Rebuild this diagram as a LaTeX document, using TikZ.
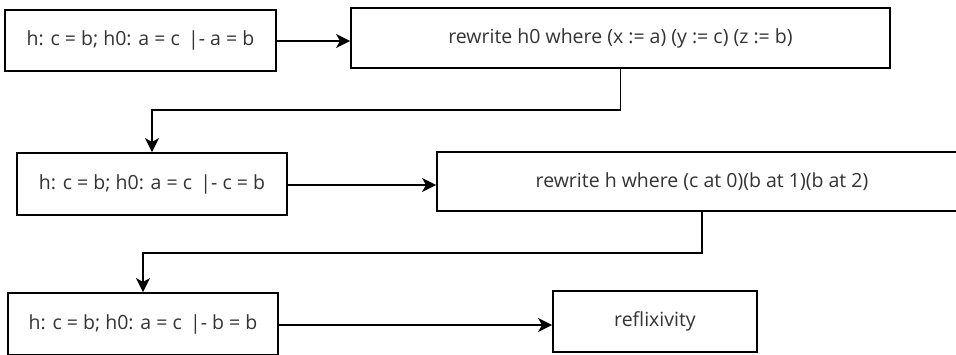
\documentclass[tikz,border=0pt]{standalone}
\usepackage{fontspec}
\setmainfont{Open Sans}
\usetikzlibrary{arrows.meta}
\definecolor{txt}{HTML}{333333}
\tikzset{
  stepbox/.style={draw=black, line width=1.9pt, fill=white, text=txt,
    font=\fontsize{19.5}{23}\selectfont, inner sep=0pt, anchor=center},
  arr/.style={line width=1.9pt, -{Stealth[length=14pt,width=14pt,inset=4pt]}},
}
\begin{document}
\begin{tikzpicture}[x=1pt,y=-1pt]
  \useasboundingbox (0,0) rectangle (956,354);
  % goal and tactic boxes
  \node[stepbox, minimum width=271pt, minimum height=61pt] (g1) at (140.5,40.5) {h: c = b; h0: a = c \,|- a = b};
  \node[stepbox, minimum width=539pt, minimum height=60pt] (t1) at (620.5,38) {rewrite h0 where (x := a) (y := c) (z := b)};
  \node[stepbox, minimum width=270pt, minimum height=62pt] (g2) at (152,184) {h: c = b; h0: a = c \,|- c = b};
  \node[stepbox, minimum width=530pt, minimum height=59pt] (t2) at (702,181.5) {rewrite h where (c at 0)(b at 1)(b at 2)};
  \node[stepbox, minimum width=270pt, minimum height=62pt] (g3) at (143,324) {h: c = b; h0: a = c \,|- b = b};
  \node[stepbox, minimum width=204pt, minimum height=61pt] (t3) at (655,321.5) {reflixivity};
  % bend points of the return connectors
  \coordinate (k1) at (0,110);
  \coordinate (k2) at (0,253);
  % connectors
  \draw[arr] ([yshift=-0.5pt]g1.east) -- ([yshift=-0.5pt]g1.east -| t1.west);
  \draw[arr] (t1.south) -- (t1.south |- k1) -| (g2.north);
  \draw[arr] ([yshift=-1pt]g2.east) -- ([yshift=-1pt]g2.east -| t2.west);
  \draw[arr] (t2.south) -- (t2.south |- k2) -| (g3.north);
  \draw[arr] ([yshift=-1pt]g3.east) -- ([yshift=-1pt]g3.east -| t3.west);
\end{tikzpicture}
\end{document}
